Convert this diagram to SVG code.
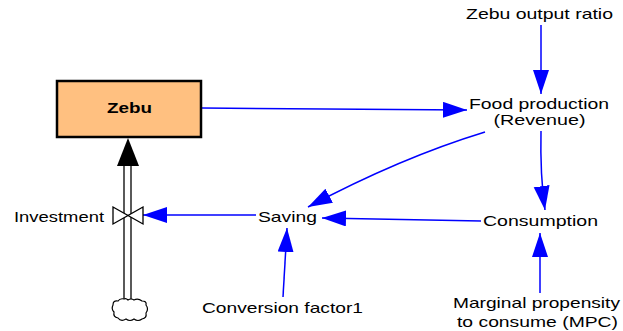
<svg xmlns="http://www.w3.org/2000/svg" width="623" height="331" viewBox="0 0 623 331">
<defs>
<style>
text{font-family:"Liberation Sans",Arial,sans-serif;font-size:15px;fill:#000;text-anchor:middle}
.lnk{fill:none;stroke:#0000FF;stroke-width:1.5;marker-end:url(#ah)}
.pipe{stroke:#000;stroke-width:1.3;fill:none}
</style>
<marker id="ah" markerUnits="userSpaceOnUse" markerWidth="26" markerHeight="18" refX="24" refY="8" orient="auto">
<path d="M0,0 L24,8 L0,16 z" fill="#0000FF"/>
</marker>
</defs>
<rect width="623" height="331" fill="#fff"/>
<g id="connectors">
<line class="lnk" x1="202" y1="108" x2="467" y2="110"/>
<line class="lnk" x1="541" y1="25" x2="541" y2="94"/>
<path class="lnk" d="M485,132 Q400,158 308,207"/>
<path class="lnk" d="M541,131 Q540,175 545,210"/>
<line class="lnk" x1="481" y1="221" x2="322" y2="218"/>
<line class="lnk" x1="283" y1="297" x2="287" y2="228"/>
<line class="lnk" x1="540" y1="293" x2="540" y2="233"/>
<line class="lnk" x1="256" y1="215" x2="143" y2="215"/>
</g>
<g id="flow-investment">
<line class="pipe" x1="124" y1="164" x2="124" y2="299"/>
<line class="pipe" x1="131" y1="164" x2="131" y2="299"/>
<path d="M128,138 L139,166 L117,166 z" fill="#000"/>
<path d="M113,207 L128,215.5 L113,224 z M143,207 L128,215.5 L143,224 z" fill="#fff" stroke="#000" stroke-width="1.3"/>
<text x="59" y="222" textLength="90" lengthAdjust="spacingAndGlyphs">Investment</text>
</g>
<g id="cloud">
<path d="M124,299 Q120,298 118,301 Q113,300 113,305 Q111,309 114,312 Q113,317 118,318 Q121,322 126,319 Q130,322 134,319 Q138,322 142,319 Q147,318 146,313 Q149,309 146,305 Q147,301 142,301 Q138,298 134,300 Q131,298 128,300 Q126,298 124,299 z" fill="#fff" stroke="#000" stroke-width="1.2"/>
</g>
<g id="zebu">
<rect x="57" y="81" width="144" height="56" fill="#FFC080" stroke="#000" stroke-width="2.5"/>
<text x="129.5" y="113" font-weight="bold" textLength="45" lengthAdjust="spacingAndGlyphs">Zebu</text>
</g>
<g id="zebu-output-ratio">
<text x="539.5" y="19" textLength="147" lengthAdjust="spacingAndGlyphs">Zebu output ratio</text>
</g>
<g id="food-production">
<text x="539" y="109" textLength="140" lengthAdjust="spacingAndGlyphs">Food production</text>
<text x="539.5" y="125" textLength="92" lengthAdjust="spacingAndGlyphs">(Revenue)</text>
</g>
<g id="consumption">
<text x="540.5" y="226" textLength="115" lengthAdjust="spacingAndGlyphs">Consumption</text>
</g>
<g id="saving">
<text x="287.5" y="222" textLength="59" lengthAdjust="spacingAndGlyphs">Saving</text>
</g>
<g id="conversion-factor1">
<text x="282.5" y="313" textLength="161" lengthAdjust="spacingAndGlyphs">Conversion factor1</text>
</g>
<g id="mpc">
<text x="536.5" y="308" textLength="167" lengthAdjust="spacingAndGlyphs">Marginal propensity</text>
<text x="537.5" y="327" textLength="161" lengthAdjust="spacingAndGlyphs">to consume (MPC)</text>
</g>
</svg>
